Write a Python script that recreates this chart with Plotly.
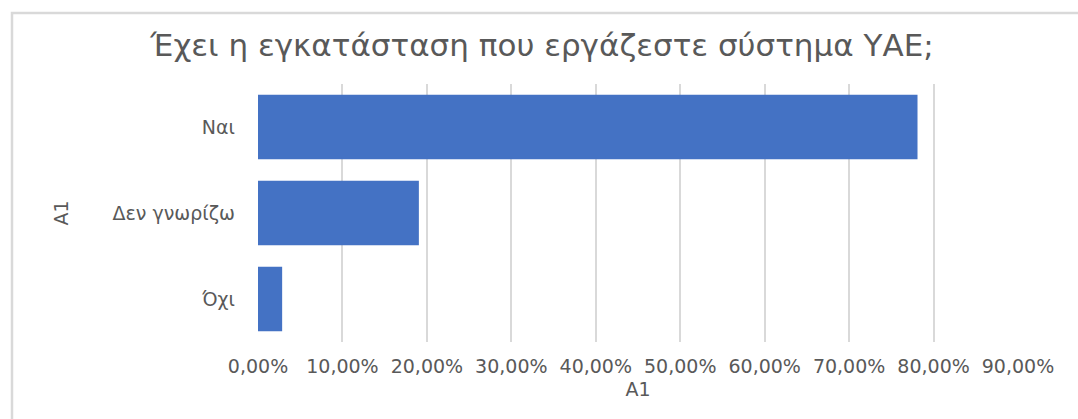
import plotly.graph_objects as go

# Survey answers (share of respondents)
categories = ["Ναι", "Δεν γνωρίζω", "Όχι"]
shares = [0.7810, 0.1905, 0.0286]
tick_values = [0.0, 0.1, 0.2, 0.3, 0.4, 0.5, 0.6, 0.7, 0.8, 0.9]
tick_labels = ["0,00%", "10,00%", "20,00%", "30,00%", "40,00%",
               "50,00%", "60,00%", "70,00%", "80,00%", "90,00%"]

W, H = 1078, 419
ML, MR, MT, MB = 258, 60, 84, 77
TEXT = "#595959"
FONT = "DejaVu Sans"

fig = go.Figure(
    go.Bar(
        y=categories,
        x=shares,
        orientation="h",
        marker=dict(color="#4472C4", line=dict(width=0)),
        width=0.75,
        hoverinfo="skip",
    )
)

# chart-area frame (light gray)
pw, ph = W - ML - MR, H - MT - MB
def px_x(p):
    return (p - ML) / pw
def px_y(p):
    return (H - MB - p) / ph

fig.add_shape(
    type="rect", xref="paper", yref="paper",
    x0=px_x(12), x1=px_x(W + 20), y0=px_y(H + 20), y1=px_y(13),
    line=dict(color="#D9D9D9", width=2.5), fillcolor="rgba(0,0,0,0)",
    layer="below",
)

fig.update_layout(
    width=W, height=H,
    margin=dict(l=ML, r=MR, t=MT, b=MB),
    paper_bgcolor="white", plot_bgcolor="white",
    showlegend=False,
    title=dict(
        text="Έχει η εγκατάσταση που εργάζεστε σύστημα ΥΑΕ;",
        x=542 / W, xanchor="center",
        y=1 - 45 / H, yanchor="middle", yref="container",
        font=dict(family=FONT, size=31, color=TEXT),
    ),
    font=dict(family=FONT, color=TEXT),
    xaxis=dict(
        range=[0, 0.9],
        tickvals=tick_values, ticktext=tick_labels,
        tickangle=0,
        tickfont=dict(family=FONT, size=19, color=TEXT),
        showgrid=True, gridcolor="#D9D9D9", gridwidth=2,
        zeroline=False, showline=False,
        ticks="", ticklabelstandoff=11,
        title=dict(text="A1", font=dict(family=FONT, size=19, color=TEXT), standoff=6),
    ),
    yaxis=dict(
        categoryorder="array", categoryarray=categories[::-1],
        tickfont=dict(family=FONT, size=19, color=TEXT),
        showgrid=False, zeroline=False, showline=False,
        ticks="", ticklabelstandoff=22,
        title=dict(text="A1", font=dict(family=FONT, size=19, color=TEXT), standoff=38),
    ),
    bargap=0.25,
)

fig.write_html("out.html")
